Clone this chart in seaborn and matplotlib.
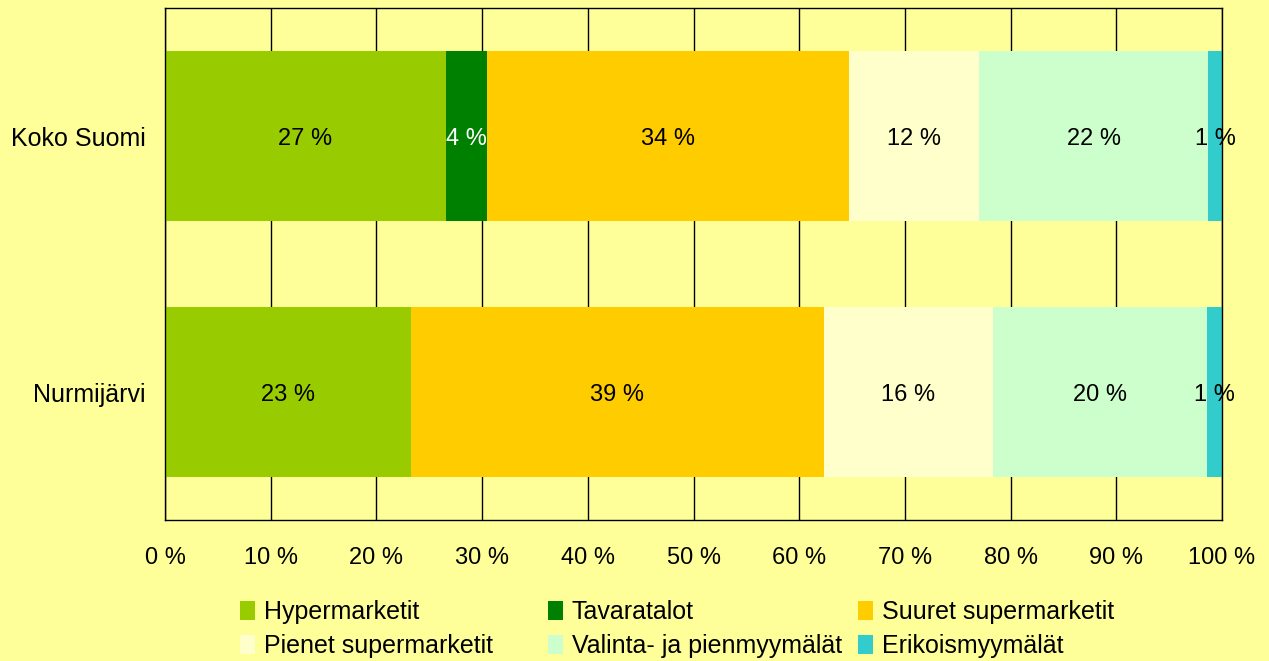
import numpy as np
import pandas as pd
import matplotlib
matplotlib.use("Agg")
import matplotlib.pyplot as plt
import seaborn as sns
from matplotlib.patches import Patch

# Datos
alueet = ["Koko Suomi", "Nurmijärvi"]
tyypit = ["Hypermarketit", "Tavaratalot", "Suuret supermarketit",
          "Pienet supermarketit", "Valinta- ja pienmyymälät", "Erikoismyymälät"]
hyper = [26.6, 23.3]
tavara = [3.9, 0.0]
suuret = [34.2, 39.0]
pienet = [12.3, 16.0]
valinta = [21.7, 20.3]
erikois = [1.3, 1.4]
varit = ["#99CC00", "#008000", "#FFCC00", "#FFFFCC", "#CCFFCC", "#33CCCC"]
tekstivarit = ["black", "white", "black", "black", "black", "black"]

sarjat = [hyper, tavara, suuret, pienet, valinta, erikois]
arvot = pd.DataFrame(np.array(sarjat).T, index=alueet, columns=tyypit)
kumul = arvot.cumsum(axis=1)

sns.set_theme(style="white")
plt.rcParams['font.family'] = ['Liberation Sans', 'DejaVu Sans']
plt.rcParams['text.color'] = 'black'
plt.rcParams['xtick.color'] = 'black'
plt.rcParams['ytick.color'] = 'black'

fig = plt.figure(figsize=(12.69, 6.61), dpi=100, facecolor="#FFFF99")
ax = fig.add_axes([0.130, 0.213, 0.833, 0.775])
ax.set_facecolor("#FFFF99")

# Pinotut palkit: piirretaan kumulatiiviset summat lopusta alkuun
for i in range(len(tyypit) - 1, -1, -1):
    df = pd.DataFrame({"alue": alueet, "arvo": kumul[tyypit[i]].values})
    sns.barplot(data=df, x="arvo", y="alue", color=varit[i], orient="h",
                width=0.664, saturation=1, ax=ax, zorder=2, linewidth=0)

# Arvojen tekstit
for j, alue in enumerate(alueet):
    for i, t in enumerate(tyypit):
        v = arvot.loc[alue, t]
        if v <= 0:
            continue
        x = kumul.loc[alue, t] - v / 2
        ax.text(x, j, f"{v:.0f} %", ha="center", va="center_baseline",
                fontsize=17, color=tekstivarit[i], zorder=5)

ax.set_xlim(0, 100)
ax.set_ylim(1.5, -0.5)
ax.set_xticks(np.arange(0, 101, 10))
ax.set_xticklabels([f"{v} %" for v in range(0, 101, 10)], fontsize=17)
ax.tick_params(axis="x", length=0, pad=19)
ax.tick_params(axis="y", length=0, pad=14, labelsize=18)
ax.set_xlabel("")
ax.set_ylabel("")
ax.xaxis.grid(True, color="black", linewidth=1)
ax.set_axisbelow(True)
for s in ax.spines.values():
    s.set_visible(True)
    s.set_color("black")
    s.set_linewidth(1)

# Selite: kolme saraketta omille paikoilleen
kahvat = [Patch(facecolor=c, edgecolor="none") for c in varit]
sarakkeet = [[0, 3], [1, 4], [2, 5]]
x_paikat = [0.189, 0.432, 0.676]
for idx, xp in zip(sarakkeet, x_paikat):
    leg = fig.legend([kahvat[k] for k in idx], [tyypit[k] for k in idx],
                     loc="upper left", bbox_to_anchor=(xp, 0.092),
                     frameon=False, fontsize=18, handlelength=0.6,
                     handleheight=0.75, handletextpad=0.35, labelspacing=0.4,
                     borderpad=0, borderaxespad=0)

fig.savefig("out.png", dpi=100, facecolor=fig.get_facecolor())
